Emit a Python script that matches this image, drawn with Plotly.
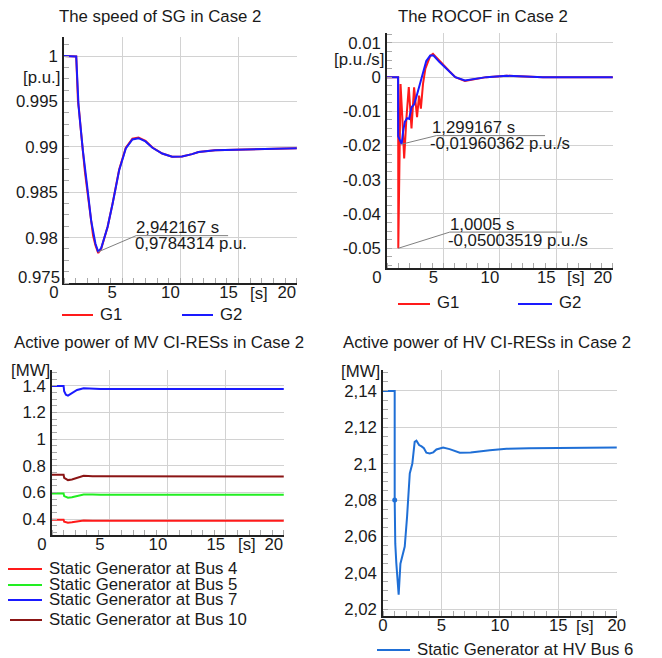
import plotly.graph_objects as go

# ---------------- data ----------------
# Panel 1: speed of SG [p.u.]
speed_t_g2 = [0, 1.0, 1.05, 1.25, 1.62, 1.96, 2.33, 2.70, 2.94, 3.2, 3.5, 3.75, 4.18, 4.74, 5.31,
              5.88, 6.4, 7.0, 7.6, 8.44, 9.29, 10.14, 11.0, 11.56, 12.98, 14.4, 17.2, 20]
speed_g2 = [1.0, 1.0, 0.99995, 0.9945, 0.9896, 0.9860, 0.9819, 0.97935, 0.97843, 0.97885, 0.9800,
            0.9812, 0.98375, 0.98743, 0.98982, 0.99081, 0.99095, 0.9906, 0.9899, 0.98926, 0.98890,
            0.98893, 0.9892, 0.98942, 0.98963, 0.98967, 0.98974, 0.98985]
speed_t_g1 = [0, 1.0, 1.05, 1.2, 1.28, 1.45, 1.62, 1.8, 1.96, 2.15, 2.33, 2.5, 2.70, 2.94, 3.2, 3.5,
              3.75, 4.18, 4.74, 5.31, 5.88, 6.4, 7.0, 7.6, 8.44, 9.29, 10.14, 11.0, 11.56, 12.98,
              14.4, 17.2, 20]
speed_g1 = [1.0, 1.0, 0.99995, 0.9950, 0.9942, 0.9918, 0.9893, 0.9872, 0.9856, 0.9838, 0.9815,
            0.9802, 0.97915, 0.97830, 0.97880, 0.98000, 0.9812, 0.98380, 0.98750, 0.98990, 0.99090,
            0.99102, 0.99065, 0.98992, 0.98926, 0.98890, 0.98893, 0.9892, 0.98942, 0.98963,
            0.98967, 0.98974, 0.98985]

# Panel 2: ROCOF [p.u./s]
rocof_t_g2 = [0, 0.98, 0.99, 1.1, 1.2, 1.3, 1.42, 1.58, 1.78, 1.96, 2.17, 2.4, 2.6, 2.9, 3.19, 3.48,
              3.83, 4.12, 4.65, 5.53, 6.05, 6.9, 7.6, 8.8, 10.6, 12.1, 13.8, 20]
rocof_g2 = [0, 0, -0.0173, -0.0182, -0.0192, -0.0196, -0.0160, -0.0131, -0.0120, -0.0122, -0.0088,
            -0.0080, -0.0058, -0.0024, 0.0015, 0.0047, 0.0063, 0.0063, 0.0044, 0.0017, 0.0,
            -0.0010, -0.0007, 0.0, 0.0004, 0.0003, 0.0, 0.0]
rocof_t_g1 = [0, 0.99, 1.0005, 1.07, 1.2, 1.36, 1.52, 1.72, 1.93, 2.17, 2.4, 2.66, 2.84, 3.0, 3.19,
              3.4, 3.6, 3.83, 4.07, 4.3, 4.65, 5.53, 6.05, 6.9, 7.6, 8.8, 10.6, 12.1, 13.8, 20]
rocof_g1 = [0, 0, -0.05, -0.036, -0.002, -0.012, -0.0238, -0.012, -0.0029, -0.015, -0.003, -0.0117,
            -0.0054, -0.0092, -0.0020, 0.0025, 0.0045, 0.0062, 0.0068, 0.0060, 0.0045, 0.0017,
            0.0, -0.0011, -0.0007, 0.0, 0.0004, 0.0003, 0.0, 0.0]

# Panel 3: active power of MV CI-RESs [MW]
mv_t = [0, 1.0, 1.05, 1.2, 1.38, 1.72, 2.16, 2.73, 3.5, 4.17, 20]
mv_bus4 = [0.395, 0.395, 0.380, 0.375, 0.3725, 0.375, 0.3825, 0.389, 0.388, 0.3875, 0.3875]
mv_bus5 = [0.5925, 0.5925, 0.572, 0.565, 0.560, 0.564, 0.575, 0.585, 0.584, 0.583, 0.5825]
mv_bus7 = [1.40, 1.40, 1.36, 1.335, 1.3275, 1.345, 1.37, 1.3825, 1.379, 1.3775, 1.3775]
mv_bus10 = [0.7325, 0.7325, 0.71, 0.70, 0.6925, 0.697, 0.71, 0.725, 0.722, 0.721, 0.72]

# Panel 4: active power of HV CI-RES [MW]
hv_t = [0, 1.0, 1.0, 1.05, 1.14, 1.34, 1.49, 1.66, 1.86, 2.06, 2.29, 2.51, 2.71, 2.86, 3.09, 3.3,
        3.5, 3.71, 4.0, 4.3, 4.57, 5.14, 5.7, 6.57, 7.5, 9.14, 10.57, 12.5, 15.4, 20]
hv_bus6 = [2.14, 2.14, 2.08, 2.056, 2.0453, 2.0279, 2.045, 2.049, 2.0544, 2.0709, 2.0946, 2.1001,
           2.112, 2.1126, 2.1102, 2.1095, 2.1085, 2.106, 2.1056, 2.1062, 2.1078, 2.1089, 2.1080,
           2.1060, 2.1061, 2.1074, 2.1082, 2.1084, 2.1087, 2.1089]
hv_marker_t = [1.0]
hv_marker_v = [2.08]

# tick labels
x_ticks = [0, 5, 10, 15, 20]
x_ticktext = ["0", "5", "10", "15", "20"]
speed_ticks = [0.975, 0.98, 0.985, 0.99, 0.995, 1.0]
speed_ticktext = ["0.975", "0.98", "0.985", "0.99", "0.995", "1"]
rocof_ticks = [-0.05, -0.04, -0.03, -0.02, -0.01, 0.0, 0.01]
rocof_ticktext = ["-0.05", "-0.04", "-0.03", "-0.02", "-0.01", "0", "0.01"]
mv_ticks = [0.4, 0.6, 0.8, 1.0, 1.2, 1.4]
mv_ticktext = ["0.4", "0.6", "0.8", "1", "1.2", "1.4"]
hv_ticks = [2.02, 2.04, 2.06, 2.08, 2.10, 2.12, 2.14]
hv_ticktext = ["2,02", "2,04", "2,06", "2,08", "2,1", "2,12", "2,14"]

# annotated extremes
speed_min = (2.942167, 0.9784314)
rocof_min_g2 = (1.299167, -0.01960362)
rocof_min_g1 = (1.0005, -0.05003519)

# ---------------- figure ----------------
# the page body has an 8 px margin: the figure is drawn 8 px smaller and shifted
OFF = 8
W, H = 662 - OFF, 658 - OFF
FONT = "Liberation Sans, Arial, sans-serif"
FS = 16.8
TXT = "#1a1a1a"

RED = "#ff1a1a"
BLUE = "#1a1aff"
GREEN = "#22ee22"
DRED = "#8b1515"
HVBLUE = "#1f6fd6"


def px(p):
    return (p - OFF) / W


def py(p):
    return 1 - (p - OFF) / H


def dx(p0, p1):
    return [px(p0), px(p1)]


def dy(p0, p1):
    return [py(p1), py(p0)]


fig = go.Figure()

fig.add_trace(go.Scatter(x=speed_t_g1, y=speed_g1, mode="lines", line=dict(color=RED, width=2),
                         xaxis="x", yaxis="y", showlegend=False))
fig.add_trace(go.Scatter(x=speed_t_g2, y=speed_g2, mode="lines", line=dict(color=BLUE, width=2),
                         xaxis="x", yaxis="y", showlegend=False))
fig.add_trace(go.Scatter(x=rocof_t_g1, y=rocof_g1, mode="lines", line=dict(color=RED, width=2),
                         xaxis="x2", yaxis="y2", showlegend=False))
fig.add_trace(go.Scatter(x=rocof_t_g2, y=rocof_g2, mode="lines", line=dict(color=BLUE, width=2),
                         xaxis="x2", yaxis="y2", showlegend=False))
for vals, col in [(mv_bus4, RED), (mv_bus5, GREEN), (mv_bus7, BLUE), (mv_bus10, DRED)]:
    fig.add_trace(go.Scatter(x=mv_t, y=vals, mode="lines", line=dict(color=col, width=2),
                             xaxis="x3", yaxis="y3", showlegend=False))
fig.add_trace(go.Scatter(x=hv_t, y=hv_bus6, mode="lines", line=dict(color=HVBLUE, width=2),
                         xaxis="x4", yaxis="y4", showlegend=False))
fig.add_trace(go.Scatter(x=hv_marker_t, y=hv_marker_v, mode="markers",
                         marker=dict(color=HVBLUE, size=5), xaxis="x4", yaxis="y4",
                         showlegend=False))


def xax(domain, anchor, shift):
    return dict(domain=domain, anchor=anchor, range=[0, 20.02], showline=True, linecolor="#222",
                linewidth=1.5, showgrid=True, gridcolor="#d2d2d2", gridwidth=1, zeroline=False,
                automargin=False, ticklabeloverflow="allow",
                tickvals=x_ticks, ticktext=x_ticktext, ticks="", ticklabelshift=shift,
                ticklabelstandoff=-7, tickfont=dict(family=FONT, size=FS, color=TXT),
                minor=dict(ticks="inside", ticklen=5, tickcolor="#aaa", dtick=1, tick0=0,
                           showgrid=False))


def yax(domain, anchor, rng, tv, tt, mdt):
    return dict(domain=domain, anchor=anchor, range=rng, showline=True, linecolor="#222",
                linewidth=1.5, showgrid=True, gridcolor="#d2d2d2", gridwidth=1, zeroline=False,
                automargin=False, ticklabeloverflow="allow",
                tickvals=tv, ticktext=tt, ticks="", ticklabelstandoff=1,
                tickfont=dict(family=FONT, size=FS, color=TXT),
                minor=dict(ticks="inside", ticklen=5, tickcolor="#aaa", dtick=mdt, tick0=tv[0],
                           showgrid=False))


fig.update_layout(
    template="none",
    width=W, height=H, margin=dict(l=0, r=0, t=0, b=0, autoexpand=False),
    paper_bgcolor="white", plot_bgcolor="white",
    font=dict(family=FONT, size=FS, color=TXT),
    xaxis=xax(dx(64, 297), "y", -10),
    # the corner label (first speed tick) is lifted above the x labels, drawn below
    yaxis=yax(dy(37, 283), "x", [0.975, 1.0021], speed_ticks[1:], speed_ticktext[1:], 0.00125),
    xaxis2=xax(dx(387, 613), "y2", -10),
    yaxis2=yax(dy(33, 268), "x2", [-0.0558, 0.0129], rocof_ticks, rocof_ticktext, 0.0025),
    xaxis3=xax(dx(52, 284), "y3", -10),
    yaxis3=yax(dy(370, 535), "x3", [0.28, 1.52], mv_ticks, mv_ticktext, 0.05),
    xaxis4=xax(dx(383, 617), "y4", 0),
    yaxis4=yax(dy(370, 616), "x4", [2.0162, 2.1515], hv_ticks, hv_ticktext, 0.005),
)
fig.update_yaxes(minor=dict(tick0=speed_ticks[0]), selector=dict(anchor="x"))

ann = []
shapes = []


def ptext(x, y, text, xanchor="center", yanchor="middle"):
    ann.append(dict(xref="paper", yref="paper", x=px(x), y=py(y), text=text, showarrow=False,
                    xanchor=xanchor, yanchor=yanchor, font=dict(family=FONT, size=FS, color=TXT)))


# corner tick label of the speed axis
ann.append(dict(xref="paper", yref="y", x=px(62), y=speed_ticks[0], text=speed_ticktext[0],
                showarrow=False, xanchor="right", yanchor="middle", yshift=6,
                font=dict(family=FONT, size=FS, color=TXT)))

# titles
ptext(160, 17, "The speed of SG in Case 2")
ptext(483, 17, "The ROCOF in Case 2")
ptext(159, 343, "Active power of MV CI-RESs in Case 2")
ptext(487, 342, "Active power of HV CI-RESs in Case 2")

# unit labels
ptext(62, 77, "[p.u.]", xanchor="right")
ptext(386, 60, "[p.u./s]", xanchor="right")
ptext(52, 370, "[MW]", xanchor="right")
ptext(382, 371, "[MW]", xanchor="right")
ptext(259, 293, "[s]")
ptext(576, 277, "[s]")
ptext(247, 544, "[s]")
ptext(585, 626, "[s]")

# legends
legend_items = [
    (62, 93, 315, RED, "G1"), (182, 213, 315, BLUE, "G2"),
    (398, 430, 304, RED, "G1"), (518, 552, 304, BLUE, "G2"),
    (8, 42, 569, RED, "Static Generator at Bus 4"),
    (8, 42, 585, GREEN, "Static Generator at Bus 5"),
    (8, 42, 600, BLUE, "Static Generator at Bus 7"),
    (10, 42, 620, DRED, "Static Generator at Bus 10"),
    (377, 410, 650, HVBLUE, "Static Generator at HV Bus 6"),
]
for x0, x1, yy, col, name in legend_items:
    shapes.append(dict(type="line", xref="paper", yref="paper", x0=px(x0), x1=px(x1),
                       y0=py(yy), y1=py(yy), line=dict(color=col, width=2)))
    ptext(x1 + 5, yy - 1, name, xanchor="left")


# extreme-value callouts
def callout(xr, yr, pt, elbow, xend, l1, l2, sh1, sh2):
    shapes.append(dict(type="line", xref=xr, yref=yr, x0=pt[0], y0=pt[1], x1=elbow[0], y1=elbow[1],
                       line=dict(color="#808080", width=1)))
    shapes.append(dict(type="line", xref=xr, yref=yr, x0=elbow[0], y0=elbow[1], x1=xend,
                       y1=elbow[1], line=dict(color="#808080", width=1)))
    ann.append(dict(xref=xr, yref=yr, x=elbow[0], y=elbow[1], text=l1, showarrow=False,
                    xanchor="left", yanchor="middle", xshift=sh1, yshift=8,
                    font=dict(family=FONT, size=FS, color=TXT)))
    ann.append(dict(xref=xr, yref=yr, x=elbow[0], y=elbow[1], text=l2, showarrow=False,
                    xanchor="left", yanchor="middle", xshift=sh2, yshift=-8,
                    font=dict(family=FONT, size=FS, color=TXT)))


callout("x", "y", speed_min, (6.2, 0.98022), 14.1,
        f"{speed_min[0]:.6f}".replace(".", ",") + " s",
        f"{speed_min[1]:.7f}".replace(".", ",") + " p.u.", -2, -3)
callout("x2", "y2", rocof_min_g2, (4.38, -0.0171), 14.0,
        f"{rocof_min_g2[0]:.6f}".replace(".", ",") + " s",
        f"{rocof_min_g2[1]:.8f}".replace(".", ",") + " p.u./s", -6, -8)
callout("x2", "y2", rocof_min_g1, (5.56, -0.0453), 15.5,
        f"{rocof_min_g1[0]:.4f}".replace(".", ",") + " s",
        f"{rocof_min_g1[1]:.8f}".replace(".", ",") + " p.u./s", -2, -4)

fig.update_layout(annotations=ann, shapes=shapes)
fig.write_html("out.html")
